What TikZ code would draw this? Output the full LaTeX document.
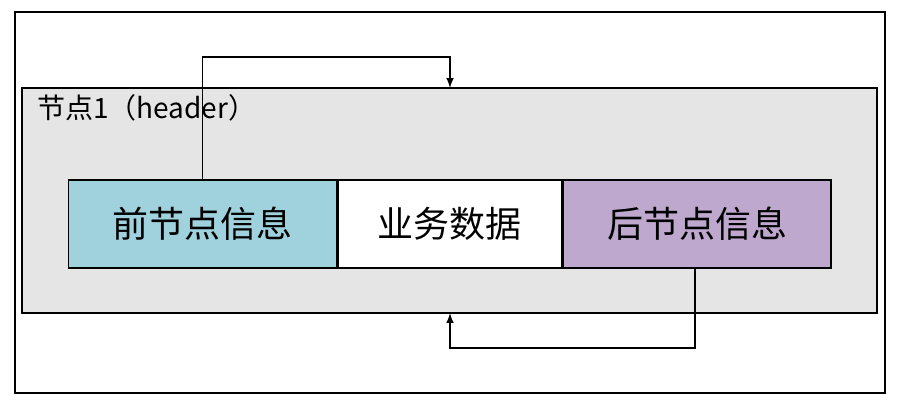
\documentclass[tikz,border=0pt]{standalone}
\usepackage{fontspec}
\newfontfamily\cjk{Noto Sans CJK SC}
\usetikzlibrary{positioning}
\definecolor{prevblue}{RGB}{160,210,222}
\definecolor{nextviolet}{RGB}{190,168,206}
\tikzset{
  cell/.style={draw, line width=0.8pt, minimum height=44pt, inner sep=0pt, font=\cjk\fontsize{18}{20}\selectfont},
  link/.style={draw, line width=0.7pt, -latex}
}
\begin{document}
\begin{tikzpicture}[x=0.5pt,y=-0.5pt]
\useasboundingbox (0,0) rectangle (900,400);
\draw [line width=0.8pt] (15,12) rectangle (885,393);
\draw [line width=0.8pt, fill=black!10] (22,88) rectangle (877,313);
\node[anchor=west, font=\cjk\fontsize{14}{16}\selectfont] (hdr) at (30,108) {节点1（header）};

\node[cell, fill=prevblue, minimum width=134pt] (prev) at (202.5,224) {前节点信息};
\node[cell, fill=white, minimum width=111.7pt, right=0pt of prev] (data) {业务数据};
\node[cell, fill=nextviolet, minimum width=134pt, right=0pt of data] (next) {后节点信息};

\coordinate (top) at (450,88);
\coordinate (bot) at (450,313);
\draw [link] (prev.north) |- (450,57) -- (top);
\draw [link] (next.south) ++(-2,0) |- (450,348) -- (bot);
\end{tikzpicture}
\end{document}
